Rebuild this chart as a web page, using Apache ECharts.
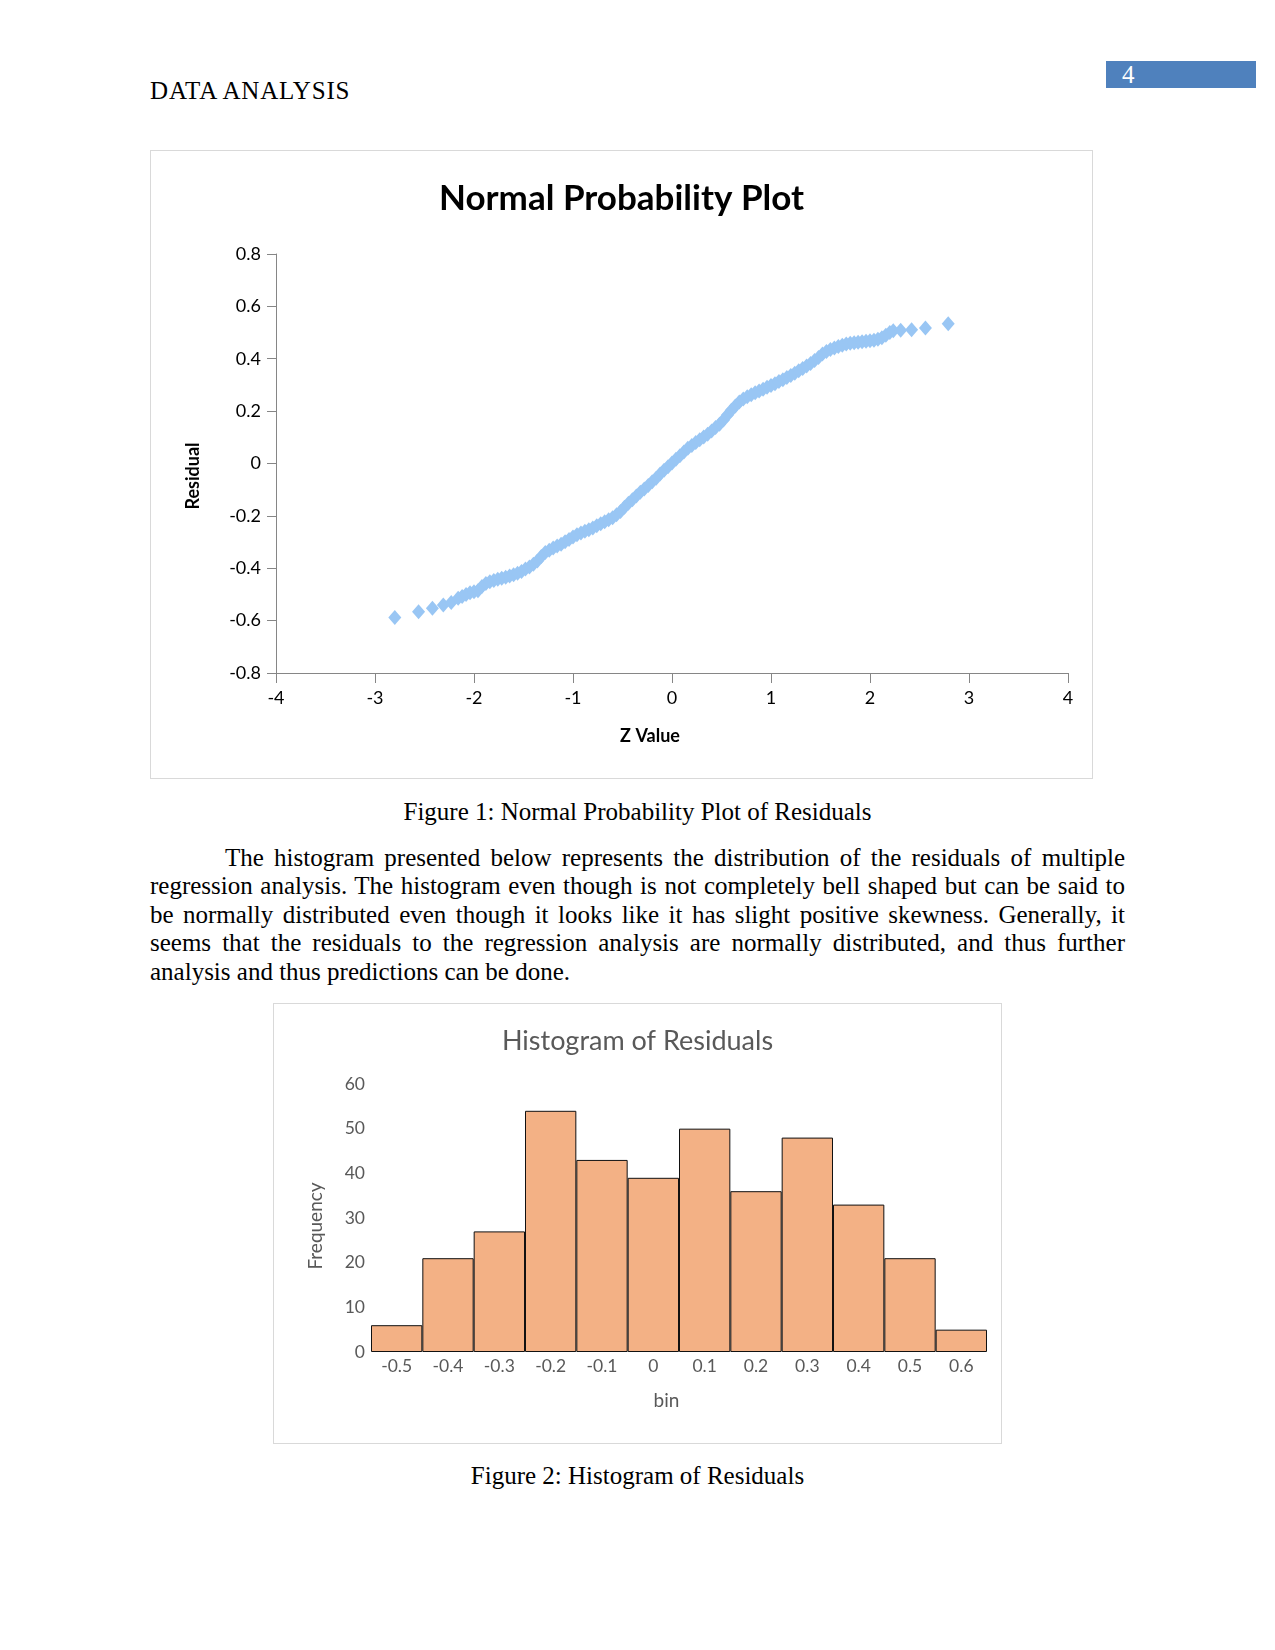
<!DOCTYPE html>
<html>
<head>
<meta charset="utf-8">
<script src="https://cdn.jsdelivr.net/npm/echarts/dist/echarts.min.js"></script>
<style>
  html, body { margin:0; padding:0; background:#fff; }
  body { width:1275px; height:1650px; position:relative; font-family:'Liberation Serif','Times New Roman',serif; color:#000; }
  .t { position:absolute; font-size:25px; line-height:29px; white-space:nowrap; }
  .j { position:absolute; font-size:25px; line-height:29px; text-align:justify; text-align-last:justify; white-space:normal; }
  .chart { position:absolute; box-sizing:border-box; border:1px solid #D9D9D9; background:#fff; }
</style>
</head>
<body>
<div class="t" style="left:150px; top:76px; letter-spacing:0.85px;">DATA ANALYSIS</div>
<div style="position:absolute; left:1106px; top:61px; width:150px; height:27px; background:#4F81BD;"></div>
<div class="t" style="left:1122px; top:60px; color:#fff;">4</div>

<div id="c1" class="chart" style="left:150px; top:150px; width:943px; height:629px;"></div>
<div class="t" style="left:0; width:1275px; text-align:center; top:797px;">Figure 1: Normal Probability Plot of Residuals</div>

<div class="j" style="left:225px; width:900px; top:843px;">The histogram presented below represents the distribution of the residuals of multiple</div>
<div class="j" style="left:150px; width:975px; top:871px;">regression analysis. The histogram even though is not completely bell shaped but can be said to</div>
<div class="j" style="left:150px; width:975px; top:900px;">be normally distributed even though it looks like it has slight positive skewness. Generally, it</div>
<div class="j" style="left:150px; width:975px; top:928px;">seems that the residuals to the regression analysis are normally distributed, and thus further</div>
<div class="t" style="left:150px; top:957px;">analysis and thus predictions can be done.</div>

<div id="c2" class="chart" style="left:273px; top:1003px; width:729px; height:441px;"></div>
<div class="t" style="left:0; width:1275px; text-align:center; top:1461px;">Figure 2: Histogram of Residuals</div>

<script>
// ---- Normal probability plot data ----
const zValues = [
  -2.80, -2.56, -2.42, -2.31, -2.23, -2.16, -2.12, -2.08, -2.04, -2.00,
  -1.96, -1.92, -1.88, -1.84, -1.80, -1.76, -1.72, -1.68, -1.64, -1.60,
  -1.56, -1.52, -1.48, -1.44, -1.40, -1.36, -1.32, -1.28, -1.24, -1.20,
  -1.16, -1.12, -1.08, -1.04, -1.00, -0.96, -0.92, -0.88, -0.84, -0.80,
  -0.76, -0.72, -0.68, -0.64, -0.60, -0.56, -0.52, -0.48, -0.44, -0.40,
  -0.36, -0.32, -0.28, -0.24, -0.20, -0.16, -0.12, -0.08, -0.04, 0.00,
  0.04, 0.08, 0.12, 0.16, 0.20, 0.24, 0.28, 0.32, 0.36, 0.40,
  0.44, 0.48, 0.52, 0.56, 0.60, 0.64, 0.68, 0.72, 0.76, 0.80,
  0.84, 0.88, 0.92, 0.96, 1.00, 1.04, 1.08, 1.12, 1.16, 1.20,
  1.24, 1.28, 1.32, 1.36, 1.40, 1.44, 1.48, 1.52, 1.56, 1.60,
  1.64, 1.68, 1.72, 1.76, 1.80, 1.84, 1.88, 1.92, 1.96, 2.00,
  2.04, 2.08, 2.12, 2.16, 2.20, 2.235, 2.31, 2.42, 2.56, 2.79
];
const residuals = [
  -0.588, -0.566, -0.553, -0.540, -0.531, -0.515, -0.508, -0.500, -0.494, -0.490,
  -0.486, -0.470, -0.458, -0.452, -0.447, -0.442, -0.438, -0.434, -0.430, -0.425,
  -0.419, -0.412, -0.403, -0.395, -0.385, -0.372, -0.355, -0.340, -0.331, -0.323,
  -0.315, -0.308, -0.299, -0.290, -0.281, -0.272, -0.265, -0.259, -0.253, -0.246,
  -0.238, -0.230, -0.222, -0.215, -0.207, -0.196, -0.183, -0.167, -0.152, -0.138,
  -0.124, -0.110, -0.097, -0.084, -0.070, -0.056, -0.040, -0.026, -0.012, 0.002,
  0.016, 0.030, 0.044, 0.058, 0.069, 0.080, 0.091, 0.101, 0.112, 0.124,
  0.137, 0.150, 0.166, 0.185, 0.203, 0.220, 0.235, 0.246, 0.255, 0.263,
  0.270, 0.277, 0.284, 0.291, 0.298, 0.305, 0.313, 0.320, 0.328, 0.336,
  0.345, 0.354, 0.363, 0.372, 0.382, 0.393, 0.405, 0.418, 0.428, 0.435,
  0.441, 0.447, 0.452, 0.456, 0.459, 0.461, 0.463, 0.465, 0.467, 0.469,
  0.471, 0.474, 0.480, 0.490, 0.500, 0.507, 0.509, 0.511, 0.517, 0.534
];

// ---- Histogram data ----
const bins = ['-0.5', '-0.4', '-0.3', '-0.2', '-0.1', '0', '0.1', '0.2', '0.3', '0.4', '0.5', '0.6'];
const frequencies = [6, 21, 27, 54, 43, 39, 50, 36, 48, 33, 21, 5];

const FONT = 'Lato, Carlito, "Open Sans", sans-serif';

// Chart 1
const c1 = echarts.init(document.getElementById('c1'), null, { renderer: 'canvas' });
const pts = zValues.map((z, i) => [z, residuals[i]]);
const axisGray = '#868686';
c1.setOption({
  animation: false,
  textStyle: { fontFamily: FONT },
  grid: { left: 125, top: 103, width: 792, height: 419 },
  xAxis: {
    type: 'value', min: -4, max: 4, interval: 1,
    axisLine: { show: true, onZero: false, lineStyle: { color: axisGray, width: 1 } },
    axisTick: { show: true, length: 10, lineStyle: { color: axisGray } },
    axisLabel: { fontSize: 18, lineHeight: 18, color: '#000', margin: 16, fontFamily: FONT },
    splitLine: { show: false }
  },
  yAxis: {
    type: 'value', min: -0.8, max: 0.8, interval: 0.2,
    axisLine: { show: true, onZero: false, lineStyle: { color: axisGray, width: 1 } },
    axisTick: { show: true, length: 9, lineStyle: { color: axisGray } },
    axisLabel: { fontSize: 18, color: '#000', margin: 15, fontFamily: FONT,
      formatter: v => { const r = Math.round(v * 10) / 10; return r === 0 ? '0' : String(r); } },
    splitLine: { show: false }
  },
  graphic: [
    { type: 'text', left: 'center', top: 30,
      style: { text: 'Normal Probability Plot', font: 'bold 35px ' + FONT, fill: '#000' } },
    { type: 'text', x: 499, y: 585,
      style: { text: 'Z Value', font: 'bold 18px ' + FONT, fill: '#000', align: 'center', verticalAlign: 'middle' } },
    { type: 'text', x: 42, y: 325, rotation: Math.PI / 2,
      style: { text: 'Residual', font: 'bold 18px ' + FONT, fill: '#000', align: 'center', verticalAlign: 'middle' } }
  ],
  series: [{
    type: 'scatter',
    data: pts,
    symbol: 'diamond',
    symbolSize: [13, 15],
    itemStyle: { color: '#99C6F4', opacity: 1 }
  }]
});

// Chart 2
const c2 = echarts.init(document.getElementById('c2'), null, { renderer: 'canvas' });
const gray = '#595959';
c2.setOption({
  animation: false,
  textStyle: { fontFamily: FONT },
  grid: { left: 97, top: 80, width: 616, height: 268 },
  xAxis: {
    type: 'category', data: bins, boundaryGap: true,
    axisLine: { show: false },
    axisTick: { show: false },
    axisLabel: { fontSize: 17.5, lineHeight: 17, color: gray, margin: 6, fontFamily: FONT }
  },
  yAxis: {
    type: 'value', min: 0, max: 60, interval: 10,
    axisLine: { show: false }, axisTick: { show: false },
    axisLabel: { fontSize: 17.5, color: gray, margin: 6, fontFamily: FONT },
    splitLine: { show: false }
  },
  graphic: [
    { type: 'text', x: 363.5, y: 37,
      style: { text: 'Histogram of Residuals', font: '27px ' + FONT, fill: gray, align: 'center', verticalAlign: 'middle' } },
    { type: 'text', x: 392.5, y: 397,
      style: { text: 'bin', font: '19px ' + FONT, fill: gray, align: 'center', verticalAlign: 'middle' } },
    { type: 'text', x: 41.5, y: 222, rotation: Math.PI / 2,
      style: { text: 'Frequency', font: '19px ' + FONT, fill: gray, align: 'center', verticalAlign: 'middle' } }
  ],
  series: [{
    type: 'bar',
    data: frequencies,
    barCategoryGap: '0%',
    itemStyle: { color: '#F3B185', borderColor: '#111', borderWidth: 1 }
  }]
});
</script>
</body>
</html>
